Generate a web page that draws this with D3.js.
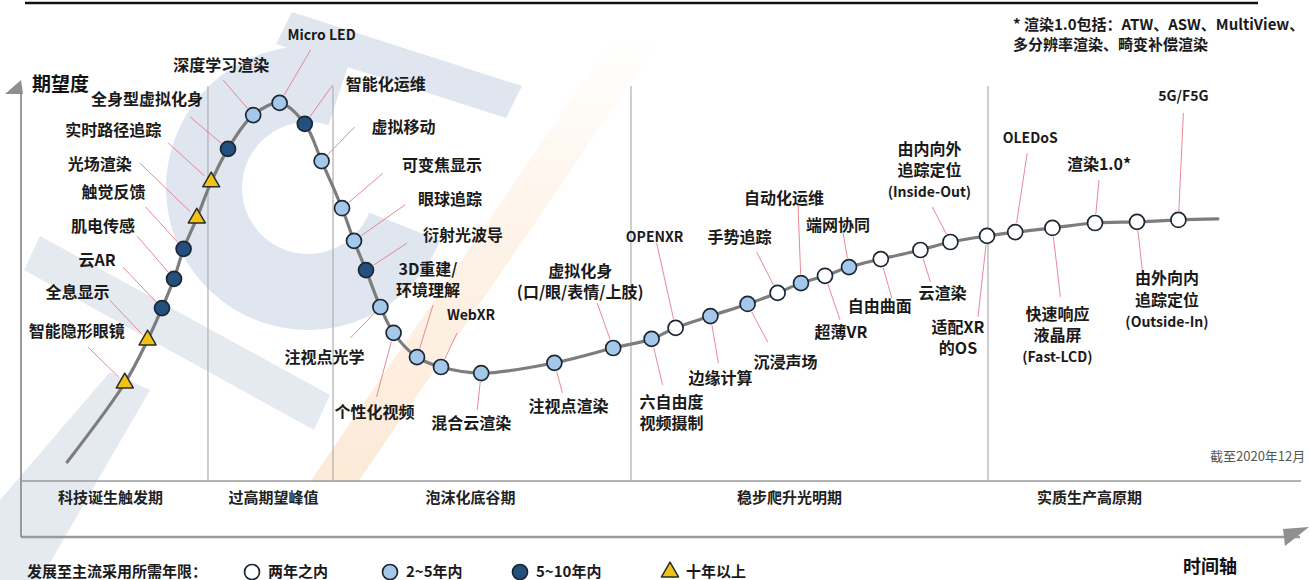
<!DOCTYPE html>
<html>
<head>
<meta charset="utf-8">
<script src="https://cdn.jsdelivr.net/npm/d3@7"></script>
<style>
html, body { margin: 0; padding: 0; background: #ffffff; }
svg { display: block; font-family: "Noto Sans CJK SC", "Noto Sans", sans-serif; }
</style>
</head>
<body>
<svg id="chart"></svg>
<script>
'use strict';

//------------------------------------------------------------
// data
//------------------------------------------------------------
const techNames = ["智能隐形眼镜", "全息显示", "云AR", "肌电传感", "触觉反馈", "光场渲染", "实时路径追踪",
    "全身型虚拟化身", "深度学习渲染", "Micro LED", "智能化运维", "虚拟移动", "可变焦显示", "眼球追踪",
    "衍射光波导", "注视点光学", "个性化视频", "3D重建/\n环境理解", "WebXR", "混合云渲染", "注视点渲染",
    "虚拟化身\n(口/眼/表情/上肢)", "六自由度\n视频摄制", "OPENXR", "边缘计算", "沉浸声场", "手势追踪",
    "自动化运维", "超薄VR", "端网协同", "自由曲面", "云渲染", "由内向外\n追踪定位\n(Inside-Out)",
    "适配XR\n的OS", "OLEDoS", "快速响应\n液晶屏\n(Fast-LCD)", "渲染1.0*", "由外向内\n追踪定位\n(Outside-In)",
    "5G/F5G"];

// position on the time axis (0-100)
const techTime = [5.4, 7.3, 8.5, 9.5, 10.3, 11.4, 12.6, 14.0, 16.1, 18.3, 20.4, 21.8, 23.5, 24.5,
    25.5, 26.7, 27.8, 29.75, 31.75, 35.1, 41.2, 46.1, 49.3, 51.3, 54.2, 57.3, 59.8,
    61.75, 63.75, 65.75, 68.4, 71.7, 74.2, 77.25, 79.6, 82.7, 86.25, 89.75, 93.2];

// expectation level (0-100)
const techExpect = [22.9, 34.2, 42.6, 50.3, 58.2, 66.3, 75.8, 84.5, 93.4, 96.6, 91.1, 81.3, 68.9, 60.3,
    52.6, 42.9, 36.1, 29.7, 27.1, 25.5, 28.2, 32.1, 34.5, 37.4, 40.5, 43.7, 46.6,
    49.2, 51.1, 53.4, 55.5, 57.9, 60.0, 61.6, 62.6, 63.7, 65.0, 65.3, 65.8];

// years to mainstream: w = <2, l = 2~5, d = 5~10, t = >10
const techYears = ["t", "t", "d", "d", "d", "t", "t", "d", "l", "l", "d", "l", "l", "l",
    "d", "l", "l", "l", "l", "l", "l", "l", "l", "w", "l", "l", "w",
    "l", "w", "l", "w", "w", "w", "w", "w", "w", "w", "w", "w"];

const curveStart = [0.6, 2.1];
const curveEnd = [96.5, 66.1];

const phaseNames = ["科技诞生触发期", "过高期望峰值", "泡沫化底谷期", "稳步爬升光明期", "实质生产高原期"];
const phaseEdges = [12.33, 22.75, 47.58, 77.33];

const legendKeys = ["w", "l", "d", "t"];
const legendNames = ["两年之内", "2~5年内", "5~10年内", "十年以上"];

//------------------------------------------------------------
// layout
//------------------------------------------------------------
const W = 1309, H = 580;

// label centre and leader start, as offsets from the marker (px)
const labelOffset = [[-48, -52], [-70, -48], [-65, -48], [-71, -52], [-70, -56], [-97, -54], [-98, -52],
    [-81, -50], [-32, -50], [42, -68], [81, -39], [82, -34], [100, -43], [96, -41],
    [97, -35], [-56, 50], [-19, 80], [11, -88], [30, -52], [-10, 50], [14, 44],
    [-33, -77], [20, 63], [-21, -91], [10, 62], [38, 58], [-38, -56],
    [-17, -85], [16, 57], [-11, -42], [-1, 47], [22, 43], [-21, -93],
    [-29, 91], [15, -94], [5, 86], [4, -59], [30, 57], [5, -124]];
const leaderOffset = [[-37, -36], [-38, -40], [-39, -41], [-37, -43], [-38, -42], [-57, -55], [-43, -39],
    [-38, -32], [-30, -35], [31, -53], [28, -39], [33, -34], [41, -35], [51, -36],
    [41, -27], [-30, 31], [-17, 64], [16, -52], [16, -34], [-4, 37], [8, 30],
    [-16, -45], [11, 46], [-19, -85], [8, 47], [20, 38], [-21, -41],
    [-3, -78], [15, 44], [-6, -34], [11, 39], [10, 32], [-18, -35],
    [-9, 81], [12, -79], [8, 69], [4, -43], [6, 55], [5, -107]];

const lineGap = 21.5;
const phaseLabelAt = [4.2, 17.8, 34.2, 60.8, 85.8];

const fills = { w: "#ffffff", l: "#a4c8ea", d: "#23507f", t: "#f3c314" };

const x = d3.scaleLinear().domain([0, 100]).range([60, 1260]);
const y = d3.scaleLinear().domain([0, 100]).range([470, 90]);

const svg = d3.select("#chart").attr("width", W).attr("height", H);

//------------------------------------------------------------
// faint watermark in the background
//------------------------------------------------------------
const wm = svg.append("g").attr("class", "watermark");
const grad = svg.append("defs").append("linearGradient")
    .attr("id", "orangeFade").attr("x1", 0).attr("y1", 1).attr("x2", 0).attr("y2", 0);
grad.append("stop").attr("offset", "0%").attr("stop-color", "#fbdcbd").attr("stop-opacity", 0.6);
grad.append("stop").attr("offset", "55%").attr("stop-color", "#fbdcbd").attr("stop-opacity", 0.35);
grad.append("stop").attr("offset", "100%").attr("stop-color", "#fbdcbd").attr("stop-opacity", 0);

wm.append("path")
    .attr("transform", "translate(308,188)")
    .attr("d", d3.arc()({ innerRadius: 66, outerRadius: 142, startAngle: 1.95, endAngle: 6.6 }))
    .attr("fill", "#e0e6ef");
wm.append("polygon").attr("points", "292,12 522,86 506,118 276,44").attr("fill", "#e0e6ef");
wm.append("polygon").attr("points", "40,236 330,395 314,430 24,270").attr("fill", "#e5eaf1");
wm.append("polygon").attr("points", "0,500 0,580 40,580 150,390 110,372").attr("fill", "#e5eaf1");
wm.append("polygon").attr("points", "310,482 358,482 660,40 612,40").attr("fill", "url(#orangeFade)");

//------------------------------------------------------------
// frame, axes and phases
//------------------------------------------------------------
svg.append("line").attr("x1", 25).attr("x2", 1258).attr("y1", 3).attr("y2", 3)
    .attr("stroke", "#111").attr("stroke-width", 2.5);

const frame = svg.append("g").attr("stroke", "#9a9a9a").attr("fill", "none");
frame.append("line").attr("x1", 21).attr("x2", 21).attr("y1", 90).attr("y2", 537).attr("stroke-width", 2);
frame.append("line").attr("x1", 21).attr("x2", 1300).attr("y1", 537).attr("y2", 537).attr("stroke-width", 2.5);
frame.append("line").attr("x1", 21).attr("x2", 1301).attr("y1", 481).attr("y2", 481).attr("stroke-width", 1.6);
svg.append("polygon").attr("points", "21,80 5,94 23,94").attr("fill", "#8f8f8f");
svg.append("polygon").attr("points", "1309,527 1283,529 1285,546").attr("fill", "#8f8f8f");

frame.selectAll("line.phase")
    .data(phaseEdges)
    .enter()
    .append("line")
    .attr("class", "phase")
    .attr("x1", (d) => x(d)).attr("x2", (d) => x(d))
    .attr("y1", 86).attr("y2", 481)
    .attr("stroke", "#b4b4b4").attr("stroke-width", 1.3);

svg.selectAll("text.phase")
    .data(phaseNames)
    .enter()
    .append("text")
    .attr("class", "phase")
    .attr("x", (d, i) => x(phaseLabelAt[i]))
    .attr("y", 498)
    .attr("dy", "0.35em")
    .attr("text-anchor", "middle")
    .attr("font-size", 15).attr("font-weight", 700).attr("fill", "#222")
    .text((d) => d);

svg.append("text").attr("x", 32).attr("y", 84).attr("dy", "0.35em")
    .attr("font-size", 19).attr("font-weight", 700).attr("fill", "#111").text("期望度");
svg.append("text").attr("x", 1183).attr("y", 567).attr("dy", "0.35em")
    .attr("font-size", 18).attr("font-weight", 700).attr("fill", "#111").text("时间轴");
svg.append("text").attr("x", 1210).attr("y", 456).attr("dy", "0.35em")
    .attr("font-size", 13).attr("fill", "#555").text("截至2020年12月");

const note = svg.append("text").attr("font-size", 15).attr("font-weight", 700).attr("fill", "#1a1a1a");
note.append("tspan").attr("x", 1013).attr("y", 30).text("* 渲染1.0包括：ATW、ASW、MultiView、");
note.append("tspan").attr("x", 1013).attr("y", 50).text("多分辨率渲染、畸变补偿渲染");

//------------------------------------------------------------
// hype curve
//------------------------------------------------------------
let curvePts = techTime.map((t, i) => [t, techExpect[i]]);
curvePts = [curveStart].concat(curvePts, [curveEnd]);
curvePts.sort((a, b) => a[0] - b[0]);

const line = d3.line()
    .x((d) => x(d[0]))
    .y((d) => y(d[1]))
    .curve(d3.curveCatmullRom.alpha(0.5));

svg.append("path")
    .attr("d", line(curvePts))
    .attr("fill", "none")
    .attr("stroke", "#7d7d7d")
    .attr("stroke-width", 3.2)
    .attr("stroke-linecap", "round");

//------------------------------------------------------------
// leader lines, labels and markers
//------------------------------------------------------------
const techs = techNames.map((name, i) => ({
    name: name,
    px: x(techTime[i]),
    py: y(techExpect[i]),
    key: techYears[i],
    lab: labelOffset[i],
    lead: leaderOffset[i]
}));

svg.append("g").selectAll("line")
    .data(techs)
    .enter()
    .append("line")
    .attr("x1", (d) => d.px + d.lead[0])
    .attr("y1", (d) => d.py + d.lead[1])
    .attr("x2", (d) => {
        const len = Math.hypot(d.lead[0], d.lead[1]);
        return d.px + d.lead[0] / len * 9;
    })
    .attr("y2", (d) => {
        const len = Math.hypot(d.lead[0], d.lead[1]);
        return d.py + d.lead[1] / len * 9;
    })
    .attr("stroke", "#e57b8a")
    .attr("stroke-width", 0.9);

const isLatin = (s) => /^[\x00-\x7f]+$/.test(s);

// one text element per line so that stacked lines stay separate
const labelGroup = svg.append("g").attr("font-weight", 700).attr("fill", "#1a1a1a");
techs.forEach((d) => {
    d.name.split("\n").forEach((p, k) => {
        labelGroup.append("text")
            .attr("x", d.px + d.lab[0])
            .attr("y", d.py + d.lab[1] + k * lineGap)
            .attr("dy", "0.35em")
            .attr("text-anchor", "middle")
            .attr("font-size", isLatin(p) ? 14 : 16)
            .text(p);
    });
});

const drawMarker = (sel, key) => {
    if (key === "t") {
        sel.append("path")
            .attr("d", d3.symbol(d3.symbolTriangle, 125)())
            .attr("fill", fills.t)
            .attr("stroke", "#2a2a2a")
            .attr("stroke-width", 1.5)
            .attr("stroke-linejoin", "round");
    } else {
        sel.append("circle")
            .attr("r", 7.5)
            .attr("fill", fills[key])
            .attr("stroke", "#1c2733")
            .attr("stroke-width", 1.7);
    }
};

svg.append("g").selectAll("g")
    .data(techs)
    .enter()
    .append("g")
    .attr("transform", (d) => `translate(${d.px},${d.py})`)
    .each(function (d) { drawMarker(d3.select(this), d.key); });

//------------------------------------------------------------
// legend
//------------------------------------------------------------
const legend = svg.append("g").attr("font-weight", 700).attr("font-size", 15).attr("fill", "#1a1a1a");
legend.append("text").attr("x", 27).attr("y", 572).attr("dy", "0.35em").text("发展至主流采用所需年限：");

const legendX = [252, 390, 520, 670];
legendKeys.forEach((k, i) => {
    const g = legend.append("g").attr("transform", `translate(${legendX[i]},572)`);
    drawMarker(g, k);
    g.append("text").attr("x", 16).attr("dy", "0.35em").text(legendNames[i]);
});
</script>
</body>
</html>
